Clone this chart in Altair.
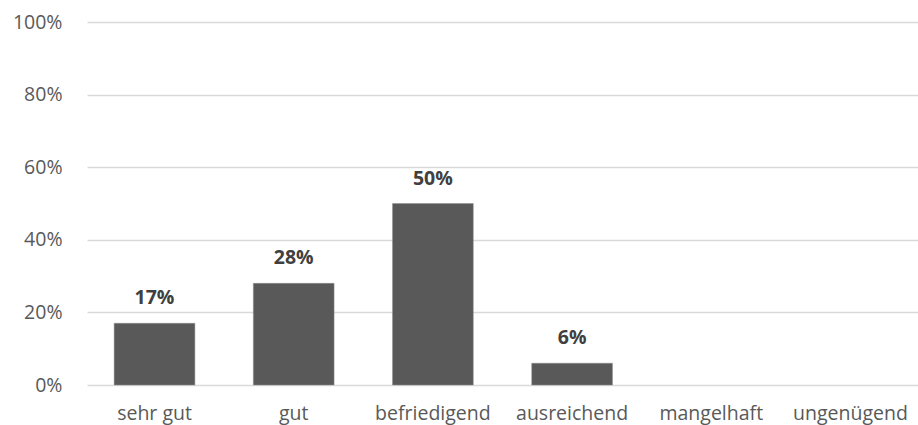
import altair as alt
import pandas as pd

# Grade distribution
grades = ["sehr gut", "gut", "befriedigend", "ausreichend", "mangelhaft", "ungenügend"]
shares = [0.17, 0.28, 0.50, 0.06, 0.0, 0.0]

df = pd.DataFrame({"grade": grades, "share": shares})

FONT = "Open Sans"

x = alt.X(
    "grade:N",
    sort=grades,
    scale=alt.Scale(domain=grades, paddingInner=0.42, paddingOuter=0.195),
    axis=alt.Axis(
        title=None,
        labelAngle=0,
        domain=False,
        ticks=False,
        labelPadding=19,
        labelFontSize=19.5,
        labelColor="#595959",
        labelFont=FONT,
        labelBaseline="top",
    ),
)
y = alt.Y(
    "share:Q",
    scale=alt.Scale(domain=[0, 1]),
    axis=alt.Axis(
        title=None,
        format=".0%",
        values=[0, 0.2, 0.4, 0.6, 0.8, 1.0],
        domain=False,
        ticks=False,
        labelPadding=25,
        labelFontSize=19.5,
        labelColor="#595959",
        labelFont=FONT,
        gridColor="#d9d9d9",
        gridWidth=1.3,
    ),
)

bars = (
    alt.Chart(df)
    .transform_filter("datum.share > 0")
    .mark_bar(color="#595959", stroke="#8c8c8c", strokeWidth=0.5)
    .encode(x=x, y=y)
)

labels = (
    alt.Chart(df)
    .transform_filter("datum.share > 0")
    .transform_calculate(label="format(datum.share, '.0%')")
    .mark_text(
        font=FONT,
        fontSize=19.5,
        fontWeight="bold",
        color="#404040",
        baseline="middle",
        dy=-25,
    )
    .encode(x=x, y=y, text="label:N")
)

chart = (
    alt.layer(bars, labels)
    .properties(
        width=831,
        height=363,
        autosize=alt.AutoSizeParams(type="none"),
        padding={"left": 87, "top": 22, "right": 0, "bottom": 40},
        background="white",
    )
    .configure_view(stroke=None)
)

chart.save("out.html", embed_options={"renderer": "svg", "actions": False})
